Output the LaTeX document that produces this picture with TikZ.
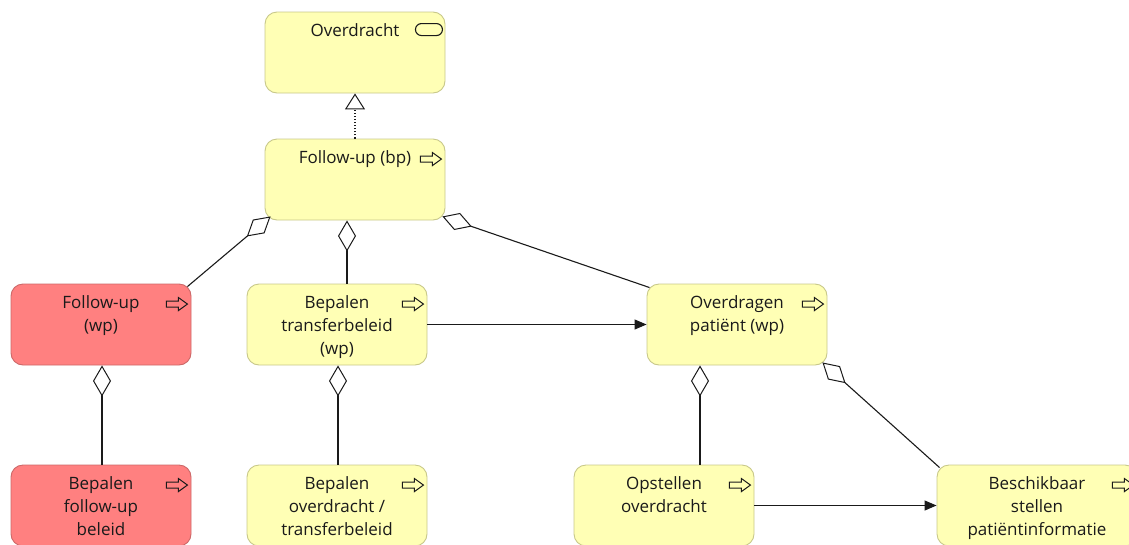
\documentclass[tikz,border=0pt]{standalone}
\usepackage{fontspec}
\setmainfont{Open Sans}
\usetikzlibrary{arrows.meta,calc}
\definecolor{bizfill}{HTML}{FFFFB5}
\definecolor{bizline}{HTML}{C8C88A}
\definecolor{redfill}{HTML}{FF8080}
\definecolor{redline}{HTML}{CC6868}
\definecolor{ink}{HTML}{1A1A1A}
\tikzset{
  elem/.style={draw=bizline, fill=bizfill, rounded corners=12pt, minimum width=180pt,
    minimum height=81pt, inner sep=0pt, line width=0.9pt},
  redelem/.style={elem, draw=redline, fill=redfill},
  lbl/.style={anchor=base, inner sep=0pt, text=ink, font=\fontsize{17}{23}\selectfont},
  agg/.style={draw=ink, line width=1.1pt,
    {Diamond[open, fill=white, length=31pt, width=18pt, line width=1pt]}-},
  trig/.style={draw=ink, line width=1.1pt, -{Triangle[length=12pt, width=10pt]}},
  real/.style={draw=ink, line width=1.1pt, dotted,
    -{Triangle[open, fill=white, length=16pt, width=20pt, line width=1pt]}},
  procicon/.pic={\draw[ink, line width=1pt, line join=miter]
    (-25,17.5) -- (-13,17.5) -- (-13,14) -- (-4,20.5) -- (-13,27) -- (-13,23.5) -- (-25,23.5) -- cycle;},
  serviceicon/.pic={\draw[ink, line width=1.1pt, rounded corners=6pt]
    (-30,12) rectangle (-3,24);}
}
\begin{document}
\begin{tikzpicture}[x=1pt, y=-1pt]
  \useasboundingbox (0,0) rectangle (1129,544);
  \begin{scope}
  \clip (0,0) rectangle (1129,544);

  % elements
  \node[elem]    (ov)  at (355,52.5)  {};
  \node[elem]    (bp)  at (355,179.5) {};
  \node[redelem] (fwp) at (101,324.5) {};
  \node[elem]    (btb) at (337,324.5) {};
  \node[elem]    (odp) at (737,324.5) {};
  \node[redelem] (bfb) at (101,505.5) {};
  \node[elem]    (bot) at (337,505.5) {};
  \node[elem]    (opo) at (664,505.5) {};
  \node[elem, minimum width=200pt] (bsp) at (1037,505.5) {};

  % labels
  \node[lbl] (t-ov)  at ([yshift=-25pt]ov.north)  {\parbox[t]{175pt}{\centering Overdracht}};
  \node[lbl] (t-bp)  at ([yshift=-25pt]bp.north)  {\parbox[t]{175pt}{\centering Follow-up (bp)}};
  \node[lbl] (t-fwp) at ([yshift=-25pt]fwp.north) {\parbox[t]{175pt}{\centering Follow-up\\(wp)}};
  \node[lbl] (t-btb) at ([yshift=-25pt]btb.north) {\parbox[t]{175pt}{\centering Bepalen\\transferbeleid\\(wp)}};
  \node[lbl] (t-odp) at ([yshift=-25pt]odp.north) {\parbox[t]{175pt}{\centering Overdragen\\patiënt (wp)}};
  \node[lbl] (t-bfb) at ([yshift=-25pt]bfb.north) {\parbox[t]{175pt}{\centering Bepalen\\follow-up\\beleid}};
  \node[lbl] (t-bot) at ([yshift=-25pt]bot.north) {\parbox[t]{175pt}{\centering Bepalen\\overdracht /\\transferbeleid}};
  \node[lbl] (t-opo) at ([yshift=-25pt]opo.north) {\parbox[t]{175pt}{\centering Opstellen\\overdracht}};
  \node[lbl] (t-bsp) at ([yshift=-25pt]bsp.north) {\parbox[t]{195pt}{\centering Beschikbaar\\stellen\\patiëntinformatie}};

  % type icons
  \pic at (ov.north east)  {serviceicon};
  \pic at (bp.north east)  {procicon};
  \pic at (fwp.north east) {procicon};
  \pic at (btb.north east) {procicon};
  \pic at (odp.north east) {procicon};
  \pic at (bfb.north east) {procicon};
  \pic at (bot.north east) {procicon};
  \pic at (opo.north east) {procicon};
  \pic at (bsp.north east) {procicon};

  % relationships
  \draw[real] (bp.north) -- (ov.south);
  \draw[agg] ([shift={(6pt,4pt)}]bp.south west) -- ([shift={(-4pt,-3pt)}]fwp.north east);
  \draw[agg] (bp.south -| 347,0) -- (btb.north -| 347,0);
  \draw[agg] ([shift={(-3pt,4pt)}]bp.south east) -- ([shift={(3pt,-4pt)}]odp.north west);
  \draw[agg] (fwp.south -| 102,0) -- (bfb.north -| 102,0);
  \draw[agg] (btb.south -| 338,0) -- (bot.north -| 338,0);
  \draw[agg] (odp.south -| 700,0) -- (opo.north -| 700,0);
  \draw[agg] ([shift={(-5pt,3pt)}]odp.south east) -- ([shift={(3pt,-3pt)}]bsp.north west);
  \draw[trig] (btb.east) -- (odp.west);
  \draw[trig] (opo.east) -- (bsp.west);
  \end{scope}
\end{tikzpicture}
\end{document}
